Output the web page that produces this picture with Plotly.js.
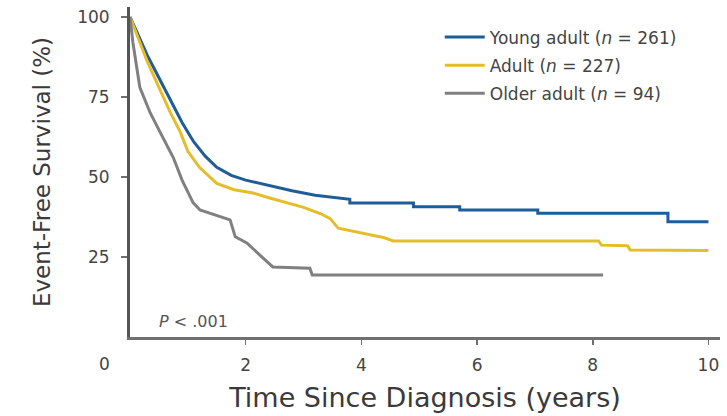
<!DOCTYPE html>
<html>
<head>
<meta charset="utf-8">
<script src="https://cdn.plot.ly/plotly-3.0.1.min.js"></script>
<style>html,body{margin:0;padding:0;background:#fff;}#chart{width:727px;height:416px;}</style>
</head>
<body>
<div id="chart"></div>
<script>
// Young adult (n = 261): survival estimates (repeated x = vertical drop)
const youngX = [0, 0.15, 0.3, 0.5, 0.7, 0.9, 1.1, 1.3, 1.5, 1.75, 2.0, 2.4, 2.8, 3.2, 3.8, 3.8, 4.9, 4.9, 5.7, 5.7, 7.05, 7.05, 9.3, 9.3, 10.0];
const youngY = [100, 94, 88, 81, 74, 67, 61, 56.5, 53, 50.5, 49, 47.3, 45.7, 44.3, 43, 41.9, 41.9, 40.7, 40.7, 39.7, 39.7, 38.7, 38.7, 36, 36];
// Adult (n = 227)
const adultX = [0, 0.15, 0.3, 0.5, 0.7, 0.87, 1.0, 1.2, 1.5, 1.8, 2.13, 2.4, 2.7, 3.0, 3.3, 3.46, 3.6, 4.0, 4.4, 4.55, 8.1, 8.15, 8.6, 8.65, 10.0];
const adultY = [100, 93, 86, 78, 70, 64, 58, 53, 48, 46, 45, 43.5, 42, 40.5, 38.5, 37, 34, 32.5, 31, 30, 30, 28.7, 28.5, 27.2, 27];
// Older adult (n = 94)
const olderX = [0, 0.05, 0.17, 0.35, 0.52, 0.75, 0.9, 1.09, 1.21, 1.5, 1.73, 1.82, 2.02, 2.25, 2.47, 3.11, 3.15, 8.18];
const olderY = [100, 92, 78, 70, 64, 56, 49, 42, 39.7, 38, 36.6, 31.3, 29.4, 25.5, 21.9, 21.5, 19.4, 19.4];

const seriesNames = ['Young adult (<i>n</i> = 261)', 'Adult (<i>n</i> = 227)', 'Older adult (<i>n</i> = 94)'];
const xTicks = [2, 4, 6, 8, 10];
const yTicks = [25, 50, 75, 100];

const font = 'DejaVu Sans, Verdana, sans-serif';
const txt = '#444';

const traces = [
  {x: youngX, y: youngY, name: seriesNames[0], legendgroup: 'a', line: {color: '#1f5c98', width: 3}},
  {x: adultX, y: adultY, name: seriesNames[1], legendgroup: 'b', line: {color: '#e5bd2a', width: 3}},
  {x: olderX, y: olderY, name: seriesNames[2], legendgroup: 'c', line: {color: '#808080', width: 3}}
].map(t => Object.assign({type: 'scatter', mode: 'lines', hoverinfo: 'skip'}, t));

const layout = {
  width: 727, height: 416,
  margin: {l: 130, r: 7, t: 7, b: 79},
  paper_bgcolor: '#fff', plot_bgcolor: '#fff',
  font: {family: font, color: txt},
  showlegend: true,
  legend: {x: 0.525, y: 0.962, xanchor: 'left', yanchor: 'top', bgcolor: 'rgba(0,0,0,0)',
           font: {size: 17, color: txt}, traceorder: 'grouped', tracegroupgap: 3, itemwidth: 40},
  xaxis: {
    range: [0, 10.2], tickvals: xTicks, ticktext: xTicks.map(String),
    showgrid: false, zeroline: false, showline: true, linecolor: '#707070', linewidth: 3,
    ticks: 'outside', ticklen: 5, tickwidth: 1.5, tickcolor: '#707070',
    tickfont: {size: 17, color: txt}, ticklabelstandoff: 6,
    title: {text: 'Time Since Diagnosis (years)', font: {size: 27, color: '#3a3a3a'}, standoff: 14},
    automargin: false
  },
  yaxis: {
    range: [0, 103.1], tickvals: yTicks, ticktext: yTicks.map(String),
    showgrid: false, zeroline: false, showline: true, linecolor: '#555', linewidth: 3,
    ticks: 'outside', ticklen: 6, tickwidth: 1.5, tickcolor: '#707070',
    tickfont: {size: 17, color: txt}, ticklabelstandoff: 8,
    title: {text: 'Event-Free Survival (%)', font: {size: 23, color: '#3a3a3a'}, standoff: 21},
    automargin: false
  },
  annotations: [
    {xref: 'paper', yref: 'paper', x: -0.0424, y: -0.082, xanchor: 'center', yanchor: 'middle', text: '0', showarrow: false, font: {size: 17, color: txt}},
    {xref: 'x', yref: 'y', x: 0.46, y: 5, xanchor: 'left', yanchor: 'middle', text: '<i>P</i> < .001', showarrow: false, font: {size: 16, color: '#555'}}
  ]
};

Plotly.newPlot('chart', traces, layout, {displayModeBar: false, staticPlot: true});
</script>
</body>
</html>
